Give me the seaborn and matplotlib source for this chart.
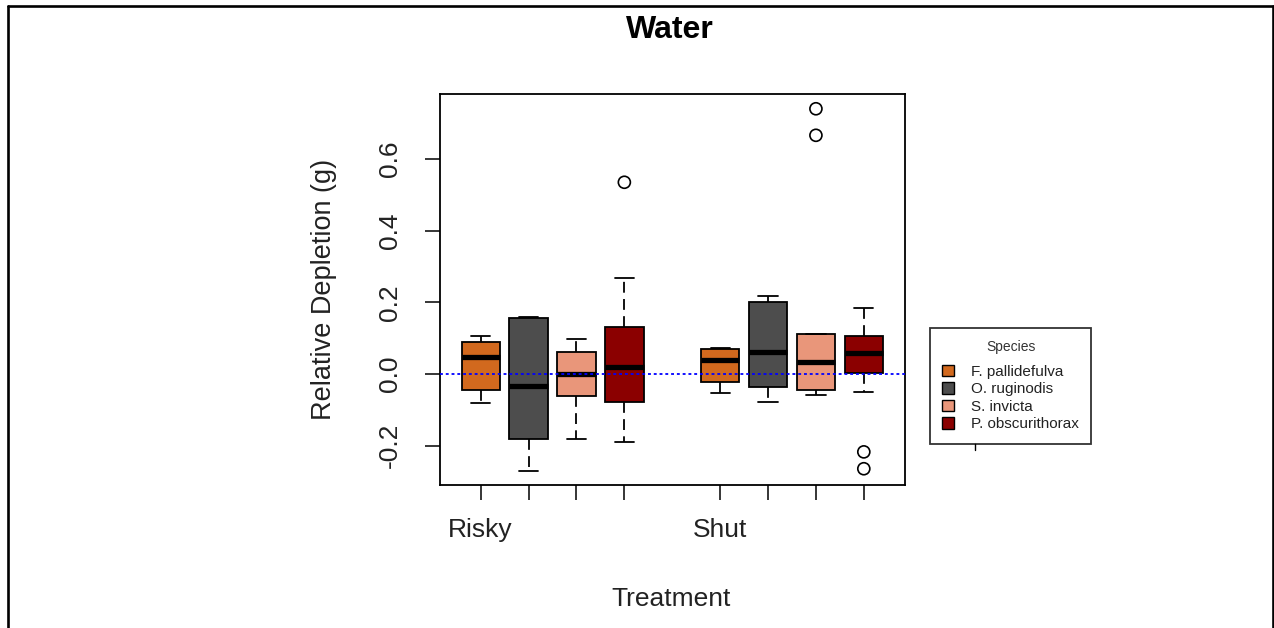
import matplotlib
matplotlib.use("Agg")
import matplotlib.pyplot as plt
from matplotlib.patches import Patch
from matplotlib.lines import Line2D
import pandas as pd
import seaborn as sns

# ---- data -------------------------------------------------------------
treatments = ["Risky", "Shut"]
species = ["F. pallidefulva", "O. ruginodis", "S. invicta", "P. obscurithorax"]
species_colors = ["#D2691E", "#4D4D4D", "#E9967A", "#8B0000"]

# five-number summaries: Risky boxes first, then Shut, species in the order above
whisker_low = [-0.082, -0.269, -0.181, -0.190, -0.054, -0.079, -0.059, -0.049]
quartile_1 = [-0.045, -0.181, -0.060, -0.079, -0.021, -0.035, -0.045, 0.004]
medians = [0.048, -0.034, 0.000, 0.019, 0.039, 0.062, 0.034, 0.058]
quartile_3 = [0.090, 0.156, 0.062, 0.131, 0.069, 0.200, 0.112, 0.106]
whisker_high = [0.106, 0.159, 0.097, 0.268, 0.074, 0.218, 0.112, 0.184]

# outlying observations (index of the box they belong to, value)
outlier_box = [3, 6, 6, 7, 7]
outlier_values = [0.535, 0.740, 0.666, -0.217, -0.264]

y_ticks = [-0.2, 0.0, 0.2, 0.4, 0.6]
y_tick_labels = ["-0.2", "0.0", "0.2", "0.4", "0.6"]

# ---- style ------------------------------------------------------------
sns.set_theme(style="ticks")
plt.rcParams["font.family"] = ["Liberation Sans", "DejaVu Sans"]

W, H = 1274, 628
fig = plt.figure(figsize=(W / 100, H / 100), dpi=100)
fig.patch.set_facecolor("white")

ax_left, ax_right, ax_top, ax_bottom = 439.5, 905.0, 94.3, 485.0
ax = fig.add_axes([ax_left / W, 1 - ax_bottom / H,
                   (ax_right - ax_left) / W, (ax_bottom - ax_top) / H])
ax.set_facecolor("white")

n_sp = len(species)
positions = [g * (n_sp + 1) + j + 1 for g in range(len(treatments)) for j in range(n_sp)]
box_colors = [species_colors[j] for g in range(len(treatments)) for j in range(n_sp)]

stats = [dict(med=m, q1=a, q3=b, whislo=lo, whishi=hi, fliers=[])
         for m, a, b, lo, hi in zip(medians, quartile_1, quartile_3, whisker_low, whisker_high)]

bp = ax.bxp(stats, positions=positions, widths=0.8, capwidths=0.4,
            patch_artist=True, showfliers=False,
            boxprops=dict(edgecolor="black", linewidth=1.3),
            medianprops=dict(color="black", linewidth=3.8, solid_capstyle="butt"),
            whiskerprops=dict(color="black", linewidth=1.3, linestyle=(0, (6, 3.5))),
            capprops=dict(color="black", linewidth=1.3))
for patch, col in zip(bp["boxes"], box_colors):
    patch.set_facecolor(col)

out_df = pd.DataFrame({"x": [positions[i] for i in outlier_box], "y": outlier_values})
sns.scatterplot(data=out_df, x="x", y="y", ax=ax, marker="o", s=75,
                facecolor="none", edgecolor="black", linewidth=1.2, zorder=4)

# zero reference line
ax.axhline(0, color="blue", linewidth=1.3, linestyle=(0, (1.6, 1.6)), zorder=5)

# axis ranges padded by 4% like a classic base-graphics boxplot
all_vals = whisker_low + whisker_high + outlier_values
lo, hi = min(all_vals), max(all_vals)
pad = 0.04 * (hi - lo)
ax.set_ylim(lo - pad, hi + pad)
xlo, xhi = 0.5, positions[-1] + 0.5
xpad = 0.04 * (xhi - xlo)
ax.set_xlim(xlo - xpad, xhi + xpad)

ax.set_yticks(y_ticks)
ax.set_yticklabels(y_tick_labels, rotation=90, va="center", fontsize=19, color="#222222")
ax.set_xticks(positions)
ax.set_xticklabels([treatments[p // (n_sp + 1)] if (p - 1) % (n_sp + 1) == 0 else ""
                    for p in positions], fontsize=19, color="#222222")
ax.tick_params(axis="y", length=10.8, width=1.1, pad=16.5, color="black")
ax.tick_params(axis="x", length=10.8, width=1.1, pad=13, color="black")
for s in ax.spines.values():
    s.set_visible(True)
    s.set_color("black")
    s.set_linewidth(1.3)

ax.set_ylabel("Relative Depletion (g)", fontsize=19.5, color="#222222")
ax.yaxis.set_label_coords((337 - ax_left) / (ax_right - ax_left),
                          (ax_bottom - 289) / (ax_bottom - ax_top))
ax.set_xlabel("Treatment", fontsize=19, color="#222222")
ax.xaxis.set_label_coords((671 - ax_left) / (ax_right - ax_left),
                          (ax_bottom - 587) / (ax_bottom - ax_top))

fig.text(670 / W, 1 - 38 / H, "Water", ha="center", va="baseline",
         fontsize=23, fontweight="bold", color="black")

handles = [Patch(facecolor=c, edgecolor="black", linewidth=1.0) for c in species_colors]
leg = fig.legend(handles, species, title="Species", loc="upper left",
                 bbox_to_anchor=(930 / W, 1 - 328 / H), frameon=True, fancybox=False,
                 fontsize=11, title_fontsize=10, handlelength=0.75, handleheight=0.75,
                 handletextpad=1.15, labelspacing=0.23, borderpad=0.8, borderaxespad=0)
leg._legend_box.sep = 7.6  # extra room between the title and the entries
leg.get_frame().set_edgecolor("black")
leg.get_frame().set_linewidth(1.3)
leg.get_title().set_color("#333333")
for t in leg.get_texts():
    t.set_color("#222222")

# short tick under the legend box
fig.add_artist(Line2D([975 / W, 975 / W], [1 - 443 / H, 1 - 450 / H],
                      transform=fig.transFigure, color="black", linewidth=1.0))

# outer frame around the figure
lw = 1.9
x0, x1, y0 = 7.5 / W, 1272.5 / W, 1 - 6 / H
fig.add_artist(Line2D([x0, x0], [0, y0], transform=fig.transFigure, color="black", linewidth=lw))
fig.add_artist(Line2D([x0, x1], [y0, y0], transform=fig.transFigure, color="black", linewidth=lw))
fig.add_artist(Line2D([x1, x1], [0, y0], transform=fig.transFigure, color="black", linewidth=lw))

fig.savefig("out.png", dpi=100, facecolor="white")
